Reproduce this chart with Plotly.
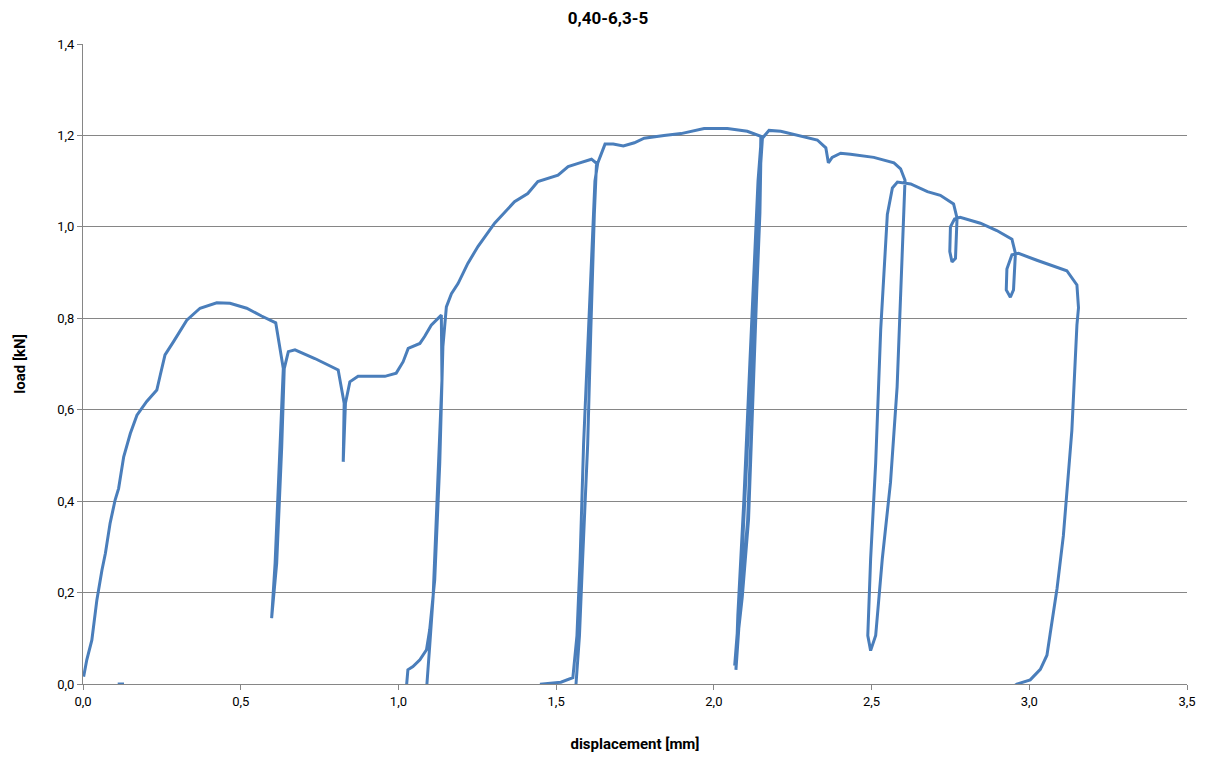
import plotly.graph_objects as go

title_text = "0,40-6,3-5"
x_title = "displacement [mm]"
y_title = "load [kN]"

# displacement [mm] / load [kN] (None = break in the trace)
disp = [0.110, 0.130, None,
        0.002, 0.012, 0.028, 0.044, 0.060, 0.071, 0.086, 0.102, 0.113, 0.129, 0.150, 0.171, 0.202,
        0.234, 0.245, 0.260, 0.287, 0.329, 0.371, 0.424, 0.466, 0.519, 0.566, 0.611,
        0.635, 0.624, 0.609, 0.598, 0.614, 0.630, 0.638, 0.651, 0.672, 0.735, 0.809, 0.828, 0.825,
        0.832, 0.846, 0.872, 0.957, 0.993, 1.015, 1.031, 1.068, 1.083, 1.104, 1.136,
        1.138, 1.125, 1.110, 1.099, 1.092, 1.085, 1.020,
        1.025, 1.030, 1.046, 1.068, 1.089, 1.099, 1.115, 1.131, 1.141, 1.152,
        1.168, 1.189, 1.220, 1.252, 1.305, 1.368, 1.410, 1.442, 1.506, 1.538, 1.570, 1.612, 1.628,
        1.621, 1.610, 1.600, 1.584, 1.574, 1.563, 1.560, 1.450,
        1.453, 1.515, 1.553, 1.566, 1.576, 1.587, 1.603, 1.613, 1.623, 1.632, 1.639,
        1.655, 1.681, 1.713, 1.748, 1.779, 1.842, 1.896, 1.969, 2.043, 2.106, 2.149,
        2.144, 2.133, 2.122, 2.107, 2.086, 2.070, 2.076, 2.095, 2.114, 2.128, 2.140, 2.150,
        2.146, 2.136, 2.124, 2.110, 2.090, 2.066, 2.082, 2.100, 2.118, 2.132, 2.143, 2.154,
        2.175, 2.212, 2.275, 2.328, 2.355, 2.363, 2.375, 2.402, 2.433, 2.507, 2.571, 2.592, 2.606,
        2.597, 2.581, 2.560, 2.534, 2.513, 2.497, 2.488, 2.497, 2.513, 2.529, 2.550, 2.566, 2.582,
        2.624, 2.677, 2.718, 2.760, 2.771, 2.766, 2.755, 2.748, 2.750, 2.763, 2.781,
        2.845, 2.897, 2.945, 2.956, 2.950, 2.940, 2.927, 2.929, 2.945, 2.966,
        3.024, 3.119, 3.151, 3.156, 3.151, 3.135, 3.108, 3.088, 3.066, 3.056, 3.035, 3.003, 2.961, 2.940]
load = [0.000, 0.000, None,
        0.016, 0.053, 0.096, 0.184, 0.249, 0.286, 0.352, 0.403, 0.428, 0.497, 0.548, 0.588, 0.618,
        0.643, 0.676, 0.720, 0.749, 0.796, 0.822, 0.834, 0.833, 0.822, 0.805, 0.790,
        0.690, 0.519, 0.264, 0.144, 0.264, 0.519, 0.690, 0.727, 0.731, 0.712, 0.687, 0.614, 0.486,
        0.614, 0.661, 0.673, 0.673, 0.680, 0.705, 0.734, 0.745, 0.760, 0.785, 0.807,
        0.665, 0.446, 0.191, 0.082, 0.000, -0.050, -0.050,
        0.000, 0.031, 0.038, 0.053, 0.075, 0.118, 0.227, 0.483, 0.738, 0.825,
        0.854, 0.876, 0.920, 0.957, 1.008, 1.055, 1.073, 1.099, 1.113, 1.132, 1.139, 1.148, 1.139,
        1.027, 0.776, 0.525, 0.274, 0.106, 0.000, -0.050, -0.050,
        0.000, 0.004, 0.014, 0.106, 0.274, 0.525, 0.776, 0.960, 1.100, 1.140, 1.153,
        1.181, 1.181, 1.177, 1.184, 1.194, 1.200, 1.204, 1.215, 1.215, 1.209, 1.198,
        1.027, 0.859, 0.608, 0.357, 0.190, 0.031, 0.150, 0.400, 0.700, 0.900, 1.100, 1.190,
        1.030, 0.860, 0.610, 0.360, 0.190, 0.040, 0.180, 0.420, 0.680, 0.880, 1.080, 1.194,
        1.211, 1.209, 1.198, 1.190, 1.173, 1.140, 1.152, 1.161, 1.159, 1.152, 1.140, 1.127, 1.102,
        0.943, 0.650, 0.441, 0.274, 0.106, 0.073, 0.106, 0.274, 0.483, 0.776, 1.027, 1.085, 1.098,
        1.094, 1.077, 1.069, 1.050, 1.019, 0.931, 0.923, 0.946, 1.000, 1.017, 1.021,
        1.008, 0.992, 0.973, 0.942, 0.862, 0.846, 0.862, 0.908, 0.939, 0.942,
        0.927, 0.904, 0.873, 0.823, 0.785, 0.555, 0.324, 0.209, 0.109, 0.063, 0.032, 0.009, 0.000, -0.010]

x_ticks = [0.0, 0.5, 1.0, 1.5, 2.0, 2.5, 3.0, 3.5]
y_ticks = [0.0, 0.2, 0.4, 0.6, 0.8, 1.0, 1.2, 1.4]

font_fam = "Liberation Sans Narrow, Arial Narrow, Roboto, Liberation Sans, sans-serif"

fig = go.Figure()
fig.add_trace(go.Scatter(
    x=disp, y=load, mode="lines",
    line=dict(color="#4a7ebb", width=3),
    connectgaps=False, showlegend=False, hoverinfo="x+y",
))

fig.update_layout(
    width=1200, height=755,
    separators=",.",
    paper_bgcolor="white", plot_bgcolor="white",
    margin=dict(l=73, r=21, t=36, b=79),
    title=dict(text="<b>" + title_text + "</b>", x=0.5, xanchor="center", y=0.987, yanchor="middle",
               font=dict(family=font_fam, size=17, color="black")),
    font=dict(family=font_fam, size=13, color="black"),
    xaxis=dict(
        range=[0, 3.5], tickvals=x_ticks, tickformat=".1f",
        showgrid=False, zeroline=False,
        showline=True, linecolor="#868686", linewidth=1,
        ticks="outside", ticklen=5, tickcolor="#868686",
        title=dict(text="<b>" + x_title + "</b>", font=dict(size=15), standoff=30),
        tickfont=dict(size=13),
    ),
    yaxis=dict(
        range=[0, 1.4], tickvals=y_ticks, tickformat=".1f",
        showgrid=True, gridcolor="#868686", gridwidth=1, zeroline=False,
        showline=True, linecolor="#868686", linewidth=1,
        ticks="outside", ticklen=5, tickcolor="#868686",
        title=dict(text="<b>" + y_title + "</b>", font=dict(size=15), standoff=27),
        tickfont=dict(size=13),
    ),
)

fig.write_html("out.html")
